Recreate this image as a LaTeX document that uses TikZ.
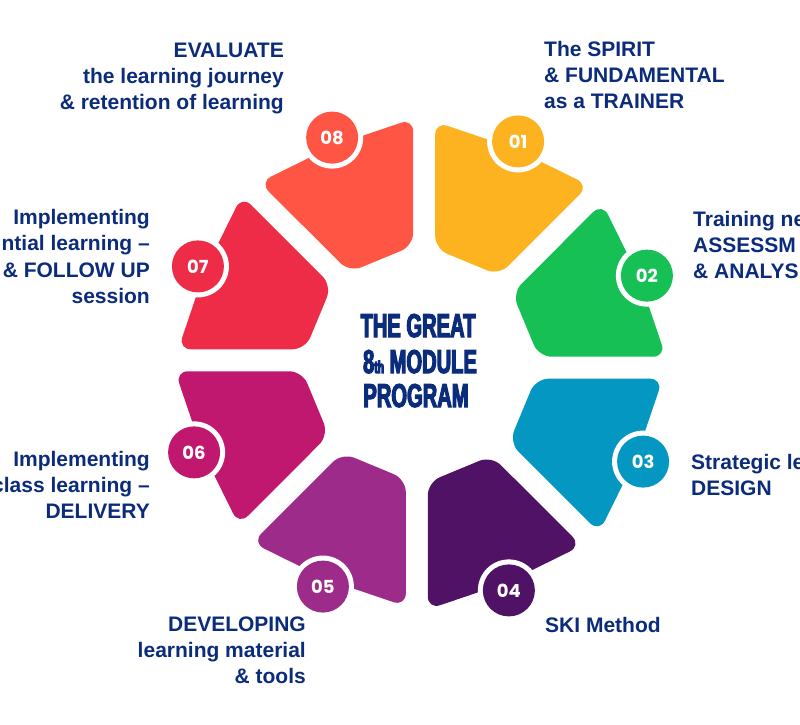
\documentclass[tikz,border=0pt]{standalone}
\usepackage{fontspec}
\setmainfont{Liberation Sans}
\newfontfamily\numfont{Poppins}
\newfontfamily\titlefont{Liberation Sans Bold}[FakeStretch=0.61]
\newcommand\heavytext[1]{\special{pdf:literal direct 2 Tr 1.1 w}#1\special{pdf:literal direct 0 Tr}}
\definecolor{navy}{HTML}{0B2B7B}
\definecolor{c1}{HTML}{FDB31F}
\definecolor{c2}{HTML}{16C055}
\definecolor{c3}{HTML}{0497C1}
\definecolor{c4}{HTML}{4F1265}
\definecolor{c5}{HTML}{9D2B89}
\definecolor{c6}{HTML}{C1186F}
\definecolor{c7}{HTML}{EE2C48}
\definecolor{c8}{HTML}{FE5544}
\begin{document}
\begin{tikzpicture}[x=1pt,y=1pt,
  piece/.style={fill=#1, rounded corners=13pt},
  badge/.style={circle, fill=#1, minimum size=52pt, inner sep=0pt, text=white,
    font=\numfont\bfseries\fontsize{18}{18}\selectfont},
  lblL/.style={anchor=base west, inner sep=0pt, text=navy,
    font=\bfseries\fontsize{21}{24}\selectfont},
  lblR/.style={anchor=base east, inner sep=0pt, text=navy,
    font=\bfseries\fontsize{21}{24}\selectfont},
  ttl/.style={anchor=base, inner sep=0pt, text=navy,
    font=\titlefont\fontsize{33}{36}\selectfont}
]
\useasboundingbox (0,0) rectangle (800,724);
\coordinate (C) at (420.5,360);
\foreach \k/\col in {1/c1,2/c2,3/c3,4/c4,5/c5,6/c6,7/c7,8/c8}{
  \pgfmathsetmacro\ang{67.5-45*(\k-1)}
  \begin{scope}[shift={(C)}, rotate=\ang]
    \fill[piece=\col] (112,30.5) -- (229.5,79.2) -- (235,-4) -- (229.5,-87.2) -- (112,-38.5) -- cycle;
    \fill[white] (243,-5) circle[radius=31pt];
    \node[badge=\col] (b\k) at (243,-5) {0\k};
  \end{scope}
}
% title
\node[ttl] (t1) at (418,387) {\heavytext{THE GREAT}};
\node[ttl] (t2) at (420,351) {\heavytext{8{\fontsize{17}{17}\selectfont th} MODULE}};
\node[ttl] (t3) at (416,317) {\heavytext{PROGRAM}};
% 01
\node[lblL] (l1a) at (544,667) {The SPIRIT};
\node[lblL] (l1b) at (544,641) {\& FUNDAMENTAL};
\node[lblL] (l1c) at (544,615) {as a TRAINER};
% 02
\node[lblL] (l2a) at (693,497) {Training ne};
\node[lblL] (l2b) at (693,471) {ASSESSM};
\node[lblL] (l2c) at (693,445) {\& ANALYS};
% 03
\node[lblL] (l3a) at (691,254.5) {Strategic le};
\node[lblL] (l3b) at (691,229) {DESIGN};
% 04
\node[lblL] (l4a) at (545,92) {SKI Method};
% 05
\node[lblR] (l5a) at (306,93) {DEVELOPING};
\node[lblR] (l5b) at (306,67) {learning material};
\node[lblR] (l5c) at (306,41) {\& tools};
% 06
\node[lblR] (l6a) at (150,258) {Implementing};
\node[lblR] (l6b) at (150,232) {class learning –};
\node[lblR] (l6c) at (150,206) {DELIVERY};
% 07
\node[lblR] (l7a) at (150,499) {Implementing};
\node[lblR] (l7b) at (150,473) {ntial learning –};
\node[lblR] (l7c) at (150,446.5) {N \& FOLLOW UP};
\node[lblR] (l7d) at (150,420.5) {session};
% 08
\node[lblR] (l8a) at (284,666) {EVALUATE};
\node[lblR] (l8b) at (284,640) {the learning journey};
\node[lblR] (l8c) at (284,614) {\& retention of learning};
\end{tikzpicture}
\end{document}
